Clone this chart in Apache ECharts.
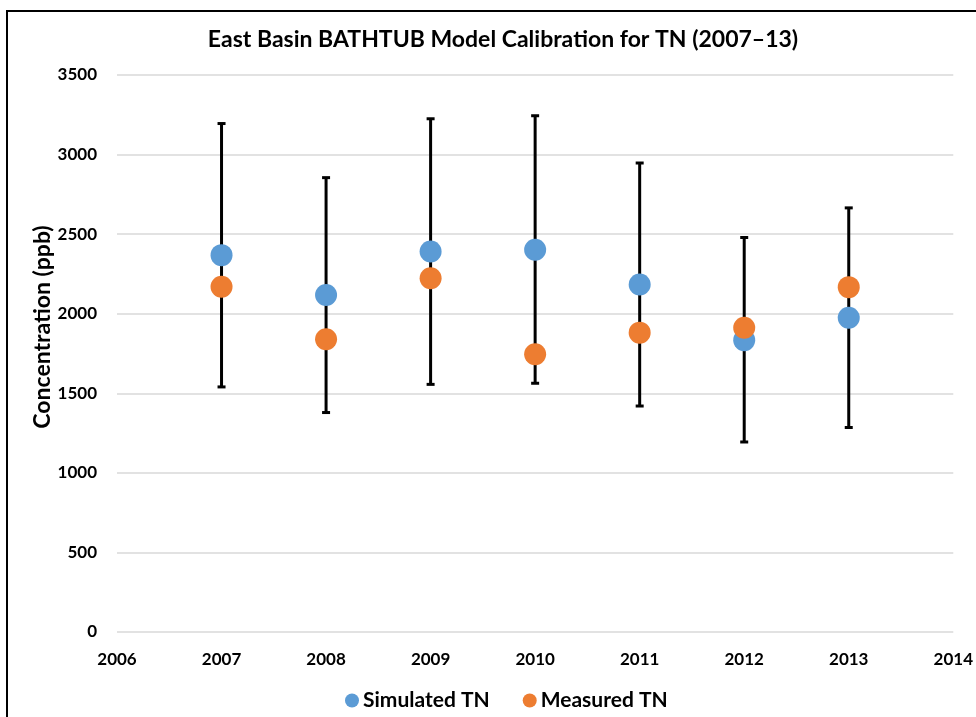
<!DOCTYPE html>
<html>
<head>
<meta charset="utf-8">
<script src="https://cdn.jsdelivr.net/npm/echarts@6/dist/echarts.min.js"></script>
<style>html,body{margin:0;padding:0;background:#fff;}#chart{width:976px;height:717px;}</style>
</head>
<body>
<div id="chart"></div>
<script>
const years = [2007, 2008, 2009, 2010, 2011, 2012, 2013];
const simulatedTN = [2368, 2117, 2391, 2402, 2184, 1834, 1975];
const measuredTN = [2169, 1839, 2223, 1745, 1881, 1912, 2167];
const errLow = [1540, 1379, 1556, 1563, 1420, 1194, 1285];
const errHigh = [3195, 2855, 3225, 3244, 2947, 2479, 2665];
const xTicks = [2006, 2007, 2008, 2009, 2010, 2011, 2012, 2013, 2014];
const yTicks = [0, 500, 1000, 1500, 2000, 2500, 3000, 3500];
const yAxisTitle = 'Concentration (ppb)';

const FONT = 'Lato';
const chart = echarts.init(document.getElementById('chart'));
chart.setOption({
  animation: false,
  backgroundColor: '#fff',
  graphic: [
    {
      type: 'rect', silent: true, z: 100,
      shape: { x: 7, y: 11, width: 1000, height: 800 },
      style: { fill: 'none', stroke: '#000', lineWidth: 2 }
    },
    {
      type: 'text', silent: true, x: 43, y: 327, rotation: Math.PI / 2,
      style: {
        text: yAxisTitle, fontFamily: FONT, fontWeight: 'bold', fontSize: 23, fill: '#000',
        align: 'center', verticalAlign: 'middle'
      }
    }
  ],
  title: {
    text: 'East Basin BATHTUB Model Calibration for TN (2007\u201313)',
    left: 498, top: 23, textAlign: 'center',
    textStyle: { fontFamily: FONT, fontWeight: 'bold', fontSize: 23, color: '#000' }
  },
  legend: {
    data: ['Simulated TN', 'Measured TN'],
    left: 340, top: 685,
    icon: 'circle', itemWidth: 14, itemHeight: 14, itemGap: 33,
    textStyle: { fontFamily: FONT, fontWeight: 'bold', fontSize: 21, color: '#000', padding: [0, 0, 0, -1] }
  },
  grid: { left: 117, right: 22, top: 75, bottom: 85 },
  xAxis: {
    type: 'value', min: xTicks[0], max: xTicks[xTicks.length - 1], interval: 1,
    axisLine: { show: false }, axisTick: { show: false }, splitLine: { show: false },
    axisLabel: { margin: 19, fontFamily: FONT, fontWeight: 'bold', fontSize: 17, color: '#000', formatter: v => String(v) }
  },
  yAxis: {
    type: 'value', min: yTicks[0], max: yTicks[yTicks.length - 1], interval: 500,
    axisLine: { show: false }, axisTick: { show: false },
    splitLine: { lineStyle: { color: '#d9d9d9', width: 1.5 } },
    axisLabel: { margin: 20, fontFamily: FONT, fontWeight: 'bold', fontSize: 17, color: '#000', formatter: v => String(v) }
  },
  series: [
    {
      type: 'custom', name: 'err', z: 1,
      data: years.map((y, i) => [y, errLow[i], errHigh[i]]),
      encode: { x: 0, y: [1, 2] },
      renderItem: function (params, api) {
        const x = api.value(0);
        const lo = api.coord([x, api.value(1)]);
        const hi = api.coord([x, api.value(2)]);
        const cw = 4;
        const st = { stroke: '#000', lineWidth: 3 };
        return {
          type: 'group', children: [
            { type: 'line', shape: { x1: lo[0], y1: lo[1], x2: hi[0], y2: hi[1] }, style: st },
            { type: 'line', shape: { x1: lo[0] - cw, y1: lo[1], x2: lo[0] + cw, y2: lo[1] }, style: st },
            { type: 'line', shape: { x1: hi[0] - cw, y1: hi[1], x2: hi[0] + cw, y2: hi[1] }, style: st }
          ]
        };
      }
    },
    {
      type: 'scatter', name: 'Simulated TN', z: 3, symbol: 'circle', symbolSize: 22,
      itemStyle: { color: '#5b9bd5', opacity: 1 },
      data: years.map((y, i) => [y, simulatedTN[i]])
    },
    {
      type: 'scatter', name: 'Measured TN', z: 4, symbol: 'circle', symbolSize: 22,
      itemStyle: { color: '#ed7d31', opacity: 1 },
      data: years.map((y, i) => [y, measuredTN[i]])
    }
  ]
});
</script>
</body>
</html>
